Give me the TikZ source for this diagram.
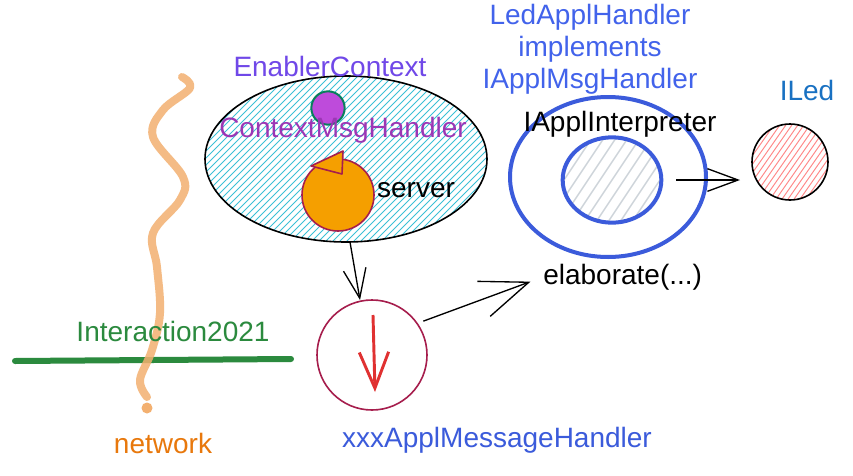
\documentclass[tikz,border=0pt]{standalone}
\usepackage{fontspec}
\setmainfont{Liberation Sans}
\usetikzlibrary{arrows.meta,shapes.geometric}
\definecolor{hatchcyan}{HTML}{3BC0D6}
\definecolor{hatchgrey}{HTML}{CED4DA}
\definecolor{hatchpink}{HTML}{FF8787}
\definecolor{crimson}{HTML}{A61E4D}
\definecolor{mblue}{HTML}{3B5BDB}
\definecolor{lblue}{HTML}{4263EB}
\definecolor{iledblue}{HTML}{1971C2}
\definecolor{violet}{HTML}{7048E8}
\definecolor{grape}{HTML}{9C36B5}
\definecolor{purplefill}{HTML}{BE4BDB}
\definecolor{tealborder}{HTML}{087F5B}
\definecolor{orangefill}{HTML}{F59F00}
\definecolor{netorange}{HTML}{F3B070}
\definecolor{nettext}{HTML}{E8780C}
\definecolor{igreen}{HTML}{2B8A3E}
\definecolor{redarrow}{HTML}{E03131}
\begin{document}
\begin{tikzpicture}[x=0.75pt,y=-0.75pt,
  lbl/.style={inner sep=0pt,font=\fontsize{21}{24}\selectfont},
  shape0/.style={inner sep=0pt,outer sep=0pt},
  barb/.style={line width=1pt,-{Straight Barb[length=20pt,width=16pt,line width=1pt]}}]
\fill[white] (0,0) rectangle (853,475);
\useasboundingbox (0,0) rectangle (853,475);

% network line
\draw[igreen,line width=4.5pt,line cap=round] (15,361) -- (291,359);
\draw[netorange,opacity=0.85,line width=6pt,line cap=round,line join=round]
  plot[smooth,tension=0.6] coordinates {(182,77) (190,88) (163,110) (153,137) (183,177) (180,200) (153,233) (157,267) (160,313) (152,350) (140,380) (147,397)};
\fill[netorange] (147,408) circle[radius=5.5];

% EnablerContext ellipse
\begin{scope}
  \clip (346,159) ellipse[x radius=141,y radius=83];
  \foreach \i in {-260,-253,...,260}
    \draw[hatchcyan,line width=0.75pt] (346+\i-100,259) -- (346+\i+100,59);
\end{scope}
\node[shape0,ellipse,draw=black,line width=1.2pt,minimum width=211.5pt,minimum height=124.5pt] (ctx) at (346,159) {};
\node[shape0,circle,fill=purplefill,draw=tealborder,line width=1.5pt,minimum size=25pt] (cmh) at (328,108) {};
\node[shape0,circle,fill=orangefill,draw=crimson,line width=1.2pt,minimum size=54pt] (srv) at (338,195) {};
\filldraw[fill=orangefill,draw=crimson,line width=1.2pt,line join=round] (311,166) -- (343,151) -- (342,174) -- cycle;

% xxx circle
\node[shape0,circle,draw=crimson,line width=1.2pt,minimum size=82.5pt] (xxx) at (372,355) {};
\coordinate (ra) at (373,315);
\coordinate (rb) at (375,392);
\draw[redarrow,line width=2.2pt,-{Straight Barb[length=27pt,width=22pt,line width=2.2pt]}] (ra) -- (rb);

% LedApplHandler circles
\node[shape0,ellipse,draw=mblue,line width=3pt,minimum width=147pt,minimum height=120pt] (led) at (608,177) {};
\begin{scope}
  \clip (612,180) ellipse[x radius=50,y radius=43];
  \foreach \i in {-120,-108,...,120}
    \draw[hatchgrey,line width=1.1pt] (612+\i-40,240) -- (612+\i+40,120);
\end{scope}
\node[shape0,ellipse,draw=mblue,line width=3pt,minimum width=74pt,minimum height=64pt] (interp) at (612,180) {};

% ILed
\begin{scope}
  \clip (790,162) circle[radius=38];
  \foreach \i in {-90,-84,...,90}
    \draw[hatchpink,line width=0.7pt] (790+\i-35,212) -- (790+\i+35,112);
\end{scope}
\node[shape0,circle,draw=black,line width=1.2pt,minimum size=57pt] (iled) at (790,162) {};

% labels
\node[lbl,text=violet] (tEnabler) at (330,66) {EnablerContext};
\node[lbl,text=grape] (tCmh) at (343,130) {ContextMsgHandler};
\node[lbl] (tServer) at (416,190) {server};
\node[lbl,text=igreen] (tInter) at (173,331) {Interaction2021};
\node[lbl,text=nettext] (tNet) at (163,443) {network};
\node[lbl,text=mblue] (tXxx) at (497,440) {xxxApplMessageHandler};
\node[lbl,anchor=west] (elab) at (543,277) {elaborate(...)};
\node[lbl] (tInterp) at (620,124) {IApplInterpreter};
\node[lbl,text=lblue,align=center] (tLed) at (590,49) {LedApplHandler\\implements\\IApplMsgHandler};
\node[lbl,text=iledblue] (tILed) at (807,90) {ILed};

% connectors
\draw[barb,-{Straight Barb[length=22pt,width=17pt,line width=1pt]}] ([xshift=3pt]ctx.south) -- ([xshift=-9pt]xxx.north);
\draw[barb,shorten <=5pt,shorten >=10pt,-{Straight Barb[length=36pt,width=28pt,line width=1pt]}] (xxx.35) -- (elab.west);
\draw[barb,shorten <=11pt,shorten >=9pt,-{Straight Barb[length=23pt,width=17pt,line width=1pt]}] (interp.east) -- (interp.east -| iled.west);
\end{tikzpicture}
\end{document}
